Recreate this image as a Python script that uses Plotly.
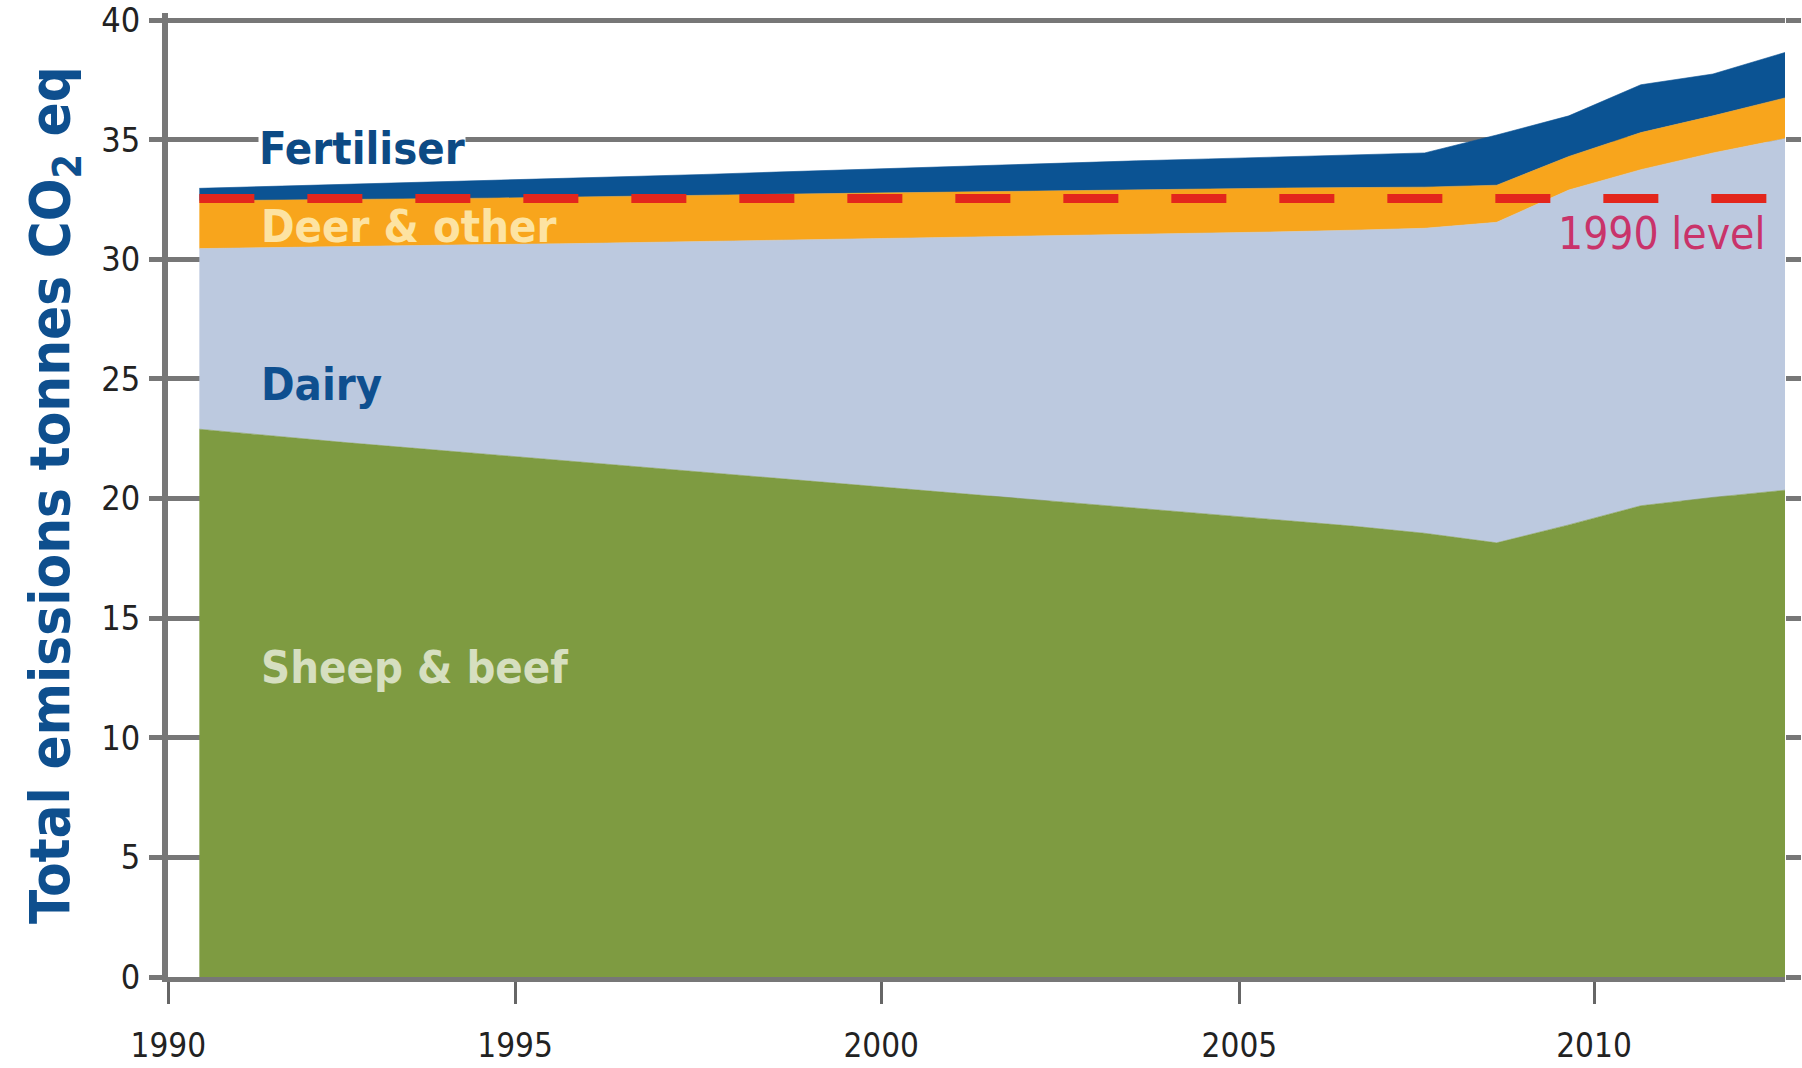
import plotly.graph_objects as go

# Agricultural emissions by source, million tonnes CO2-equivalent
YEARS = list(range(1990, 2013))

SHEEP_BEEF = [22.90, 22.62, 22.35, 22.10, 21.85, 21.60, 21.35, 21.10, 20.85, 20.60,
              20.35, 20.10, 19.85, 19.60, 19.35, 19.10, 18.85, 18.55, 18.15, 18.90,
              19.70, 20.05, 20.35]
DAIRY = [7.55, 7.88, 8.20, 8.50, 8.77, 9.05, 9.35, 9.65, 9.95, 10.25,
         10.53, 10.82, 11.12, 11.42, 11.73, 12.05, 12.37, 12.75, 13.40, 14.00,
         14.05, 14.40, 14.70]
DEER_OTHER = [2.00, 1.97, 1.95, 1.93, 1.94, 1.95, 1.93, 1.93, 1.92, 1.91,
              1.92, 1.92, 1.91, 1.90, 1.88, 1.83, 1.78, 1.72, 1.55, 1.40,
              1.55, 1.55, 1.70]
FERTILISER = [0.52, 0.58, 0.62, 0.67, 0.72, 0.76, 0.82, 0.87, 0.93, 0.99,
              1.05, 1.11, 1.17, 1.20, 1.24, 1.30, 1.36, 1.43, 2.10, 1.70,
              2.00, 1.75, 1.90]

LEVEL_1990 = 32.55

X_TICK_TEXT = ["1990", "1995", "2000", "2005", "2010"]
X_TICK_POS = [1989.57, 1994.38, 1999.46, 2004.43, 2009.35]
Y_TICKS = [0, 5, 10, 15, 20, 25, 30, 35, 40]

NARROW = "Liberation Sans Narrow, Arial Narrow, DejaVu Sans Condensed, sans-serif"
GREY = "#777777"

series = [
    ("Sheep & beef", SHEEP_BEEF, "#7e9b41"),
    ("Dairy", DAIRY, "#bcc9df"),
    ("Deer & other", DEER_OTHER, "#f8a51c"),
    ("Fertiliser", FERTILISER, "#0b5393"),
]

fig = go.Figure()
for name, vals, color in series:
    fig.add_trace(go.Scatter(
        x=YEARS, y=vals, name=name, mode="lines",
        stackgroup="total", line=dict(width=0.6, color=color),
        fillcolor=color, hoverinfo="skip",
    ))

# 1990 reference level, drawn on the overlay axis so it sits above the areas
fig.add_trace(go.Scatter(
    x=[YEARS[0], YEARS[-1]], y=[LEVEL_1990, LEVEL_1990], mode="lines",
    line=dict(color="#e3261c", width=9, dash="55px,53px"),
    yaxis="y2", hoverinfo="skip", showlegend=False,
))

Y_RANGE = [0, 40.3]

fig.update_layout(
    width=1802, height=1068,
    margin=dict(l=168, r=17, t=13, b=91, autoexpand=False),
    paper_bgcolor="white", plot_bgcolor="white",
    showlegend=False, hovermode=False,
    xaxis=dict(
        range=[1989.565, 2012], showgrid=False, zeroline=False,
        automargin=False,
        showline=True, linecolor=GREY, linewidth=5,
        tickmode="array", tickvals=X_TICK_POS, ticktext=X_TICK_TEXT,
        ticks="outside", ticklen=22, tickwidth=3, tickcolor="#666666",
        ticklabelstandoff=13,
        tickfont=dict(family=NARROW, size=33, color="#222222"),
    ),
    yaxis=dict(
        range=Y_RANGE, tickmode="array", tickvals=Y_TICKS,
        automargin=False,
        showgrid=True, gridcolor=GREY, gridwidth=5, zeroline=False,
        showline=True, linecolor=GREY, linewidth=6,
        ticks="outside", ticklen=13, tickwidth=5, tickcolor=GREY,
        ticklabelstandoff=2,
        tickfont=dict(family=NARROW, size=34, color="#222222"),
    ),
    yaxis2=dict(
        range=Y_RANGE, overlaying="y", side="right", automargin=False,
        tickmode="array", tickvals=Y_TICKS, showticklabels=False,
        showgrid=False, zeroline=False, showline=False,
        ticks="outside", ticklen=15, tickwidth=5, tickcolor=GREY,
    ),
)

label_font = dict(family=NARROW, size=45)
labels = [
    ("Fertiliser", 0.0557, 0.859, "#0c4a84", "white"),
    ("Deer & other", 0.057, 0.779, "#fde3a2", None),
    ("Dairy", 0.057, 0.615, "#0e4f8f", None),
    ("Sheep & beef", 0.057, 0.321, "#d6dfc0", None),
]
for text, x, y, color, bg in labels:
    fig.add_annotation(
        text=f"<b>{text}</b>", xref="paper", yref="paper", x=x, y=y,
        xanchor="left", yanchor="middle", showarrow=False,
        font=dict(label_font, color=color),
        bgcolor=bg if bg else "rgba(0,0,0,0)", borderpad=0,
    )

fig.add_annotation(
    text="1990 level", xref="paper", yref="paper", x=0.989, y=0.771,
    xanchor="right", yanchor="middle", showarrow=False,
    font=dict(family=NARROW, size=44, color="#c9336a"),
)

# Vertical axis title
fig.add_annotation(
    text="<b>Total emissions tonnes CO<sub>2</sub> eq</b>",
    xref="paper", yref="paper", x=-0.0711, y=0.5,
    xanchor="center", yanchor="middle", textangle=-90, showarrow=False,
    font=dict(family=NARROW, size=56, color="#0e4f8e"),
)

fig.write_html("out.html")
